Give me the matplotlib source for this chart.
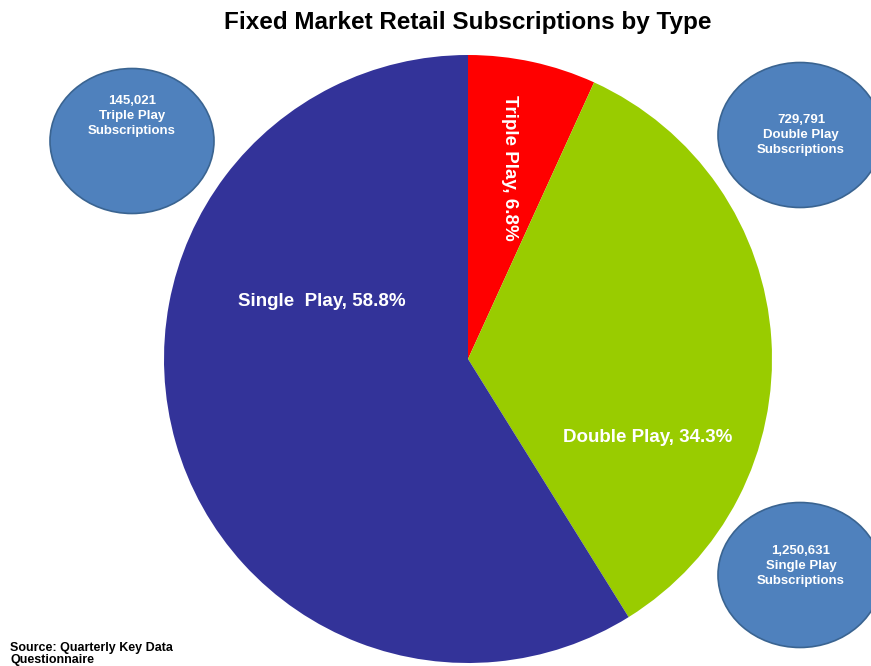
import matplotlib.pyplot as plt
from matplotlib.patches import Ellipse

plt.rcParams['font.family'] = ['Liberation Sans', 'DejaVu Sans']

# pie data, clockwise from the top
labels = ["Triple Play, 6.8%", "Double Play, 34.3%", "Single  Play, 58.8%"]
shares = [6.8, 34.3, 58.8]
colors = ["#FF0000", "#99CC00", "#333399"]

# callout bubbles
bubble_text = ["145,021\nTriple Play\nSubscriptions",
               "729,791\nDouble Play\nSubscriptions",
               "1,250,631\nSingle Play\nSubscriptions"]
bubble_xy = [(132, 141), (800, 135), (800, 575)]
text_xy = [(132, 116), (801, 135), (801, 566)]

W, H = 871, 666
fig = plt.figure(figsize=(W / 100, H / 100), dpi=100)
ax = fig.add_axes([0, 0, 1, 1])

cx, cy, r = 468, H - 359, 304
wedges, _ = ax.pie(shares, colors=colors, startangle=90, counterclock=False,
                   center=(cx, cy), radius=r, frame=True,
                   wedgeprops=dict(linewidth=0))
ax.set_xlim(0, W)
ax.set_ylim(0, H)
ax.set_aspect("equal")
ax.axis("off")

# slice labels
lab_kw = dict(ha="center", va="center", color="white", fontsize=13.5,
              fontweight="bold")
ax.text(509, H - 168, labels[0], rotation=-90, **lab_kw)
ax.text(648, H - 438, labels[1], **lab_kw)
ax.text(322, H - 302, labels[2], **lab_kw)

for (bx, by), (tx, ty), txt in zip(bubble_xy, text_xy, bubble_text):
    e = Ellipse((bx, H - by), 164, 145, facecolor="#4F81BD",
                edgecolor="#3A6491", linewidth=1.2, clip_on=False)
    ax.add_patch(e)
    ax.text(tx, H - ty, txt, ha="center", va="center", color="white",
            fontsize=9.5, fontweight="bold", linespacing=1.35)

fig.text(468 / W, 1 - 23 / H, "Fixed Market Retail Subscriptions by Type",
         ha="center", va="center", fontsize=17.5, fontweight="bold")
fig.text(10 / W, 1 - 654 / H, "Source: Quarterly Key Data\nQuestionnaire",
         ha="left", va="center", fontsize=9, fontweight="bold", linespacing=1.1)

fig.savefig("out.png", dpi=100)
